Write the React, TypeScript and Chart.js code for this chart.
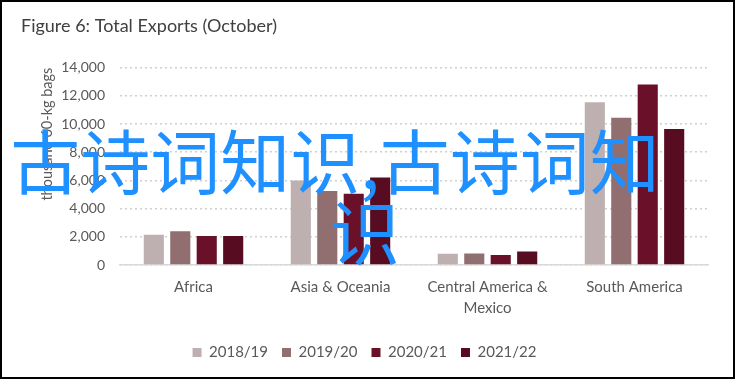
import React, { useEffect, useRef } from "react";
import { Chart, registerables } from "chart.js";

Chart.register(...registerables);

const categories: (string | string[])[] = [
  "Africa",
  "Asia & Oceania",
  ["Central America &", "Mexico"],
  "South America",
];
const seriesNames = ["2018/19", "2019/20", "2020/21", "2021/22"];
const v2018 = [2150, 6000, 800, 11550];
const v2019 = [2400, 5250, 810, 10450];
const v2020 = [2050, 5050, 710, 12800];
const v2021 = [2050, 6200, 950, 9650];
const seriesColors = ["#BEB0B0", "#916F71", "#6A1028", "#570C21"];
const titleText = "Figure 6: Total Exports (October)";
const yTitle = "thousand 60-kg bags";
const watermarkLine1 = "古诗词知识,古诗词知";
const watermarkLine2 = "识";

export default function App() {
  const ref = useRef<HTMLCanvasElement | null>(null);

  useEffect(() => {
    if (!ref.current) return;
    const values = [v2018, v2019, v2020, v2021];
    const chart = new Chart(ref.current, {
      type: "bar",
      data: {
        labels: categories,
        datasets: seriesNames.map((name, i) => ({
          label: name,
          data: values[i],
          backgroundColor: seriesColors[i],
          borderWidth: 0,
          categoryPercentage: 0.72,
          barPercentage: 0.76,
        })),
      },
      options: {
        animation: false,
        responsive: false,
        maintainAspectRatio: false,
        devicePixelRatio: 1,
        layout: { padding: { left: 21, right: 28, top: 0, bottom: 10 } },
        plugins: {
          title: {
            display: true,
            text: titleText,
            align: "start",
            color: "#404040",
            font: { family: "Lato", size: 18, weight: "normal" },
            padding: { top: 15, bottom: 31 },
          },
          legend: {
            position: "bottom",
            labels: {
              boxWidth: 9,
              boxHeight: 9,
              color: "#595959",
              font: { family: "Lato", size: 15 },
              padding: 14,
            },
          },
          tooltip: { enabled: false },
        },
        scales: {
          x: {
            grid: { display: false, drawTicks: false },
            border: { display: true, color: "#D9D9D9", width: 1.5 },
            ticks: {
              color: "#595959",
              font: { family: "Lato", size: 15, lineHeight: 1.45 },
              padding: 11,
              maxRotation: 0,
              autoSkip: false,
            },
            afterFit: (scale: any) => {
              scale.height = 66;
            },
          },
          y: {
            min: 0,
            max: 14000,
            ticks: {
              stepSize: 2000,
              color: "#595959",
              font: { family: "Lato", size: 14 },
              padding: 15,
              callback: (v: any) => Number(v).toLocaleString("en-US"),
            },
            grid: {
              color: "#D0D0D0",
              lineWidth: 1.5,
              drawTicks: false,
            },
            border: { display: false, dash: [2, 3] },
            title: {
              display: true,
              text: yTitle,
              align: "end",
              color: "#595959",
              font: { family: "Lato", size: 14.5 },
              padding: { top: 18, bottom: 6 },
            },
            afterFit: (scale: any) => {
              scale.width = 99;
            },
          },
        },
      },
    } as any);
    return () => chart.destroy();
  }, []);

  return (
    <div
      style={{
        position: "fixed",
        left: 0,
        top: 0,
        width: 736,
        height: 380,
        background: "#fff",
        overflow: "hidden",
      }}
    >
      <canvas ref={ref} width={736} height={380} style={{ display: "block" }} />
      <div
        style={{
          position: "absolute",
          left: 0,
          top: 123,
          width: 736,
          textAlign: "center",
          fontFamily: "'Noto Sans CJK SC', sans-serif",
          fontSize: 70,
          lineHeight: "71px",
          color: "#1E90FF",
          whiteSpace: "pre",
          pointerEvents: "none",
        }}
      >
        <div style={{ position: "relative", left: -33 }}>{watermarkLine1}</div>
        <div style={{ position: "relative", left: -3 }}>{watermarkLine2}</div>
      </div>
      <div
        style={{
          position: "absolute",
          left: 0,
          top: 0,
          width: 735,
          height: 379,
          boxSizing: "border-box",
          border: "2px solid #000",
          pointerEvents: "none",
        }}
      />
    </div>
  );
}
